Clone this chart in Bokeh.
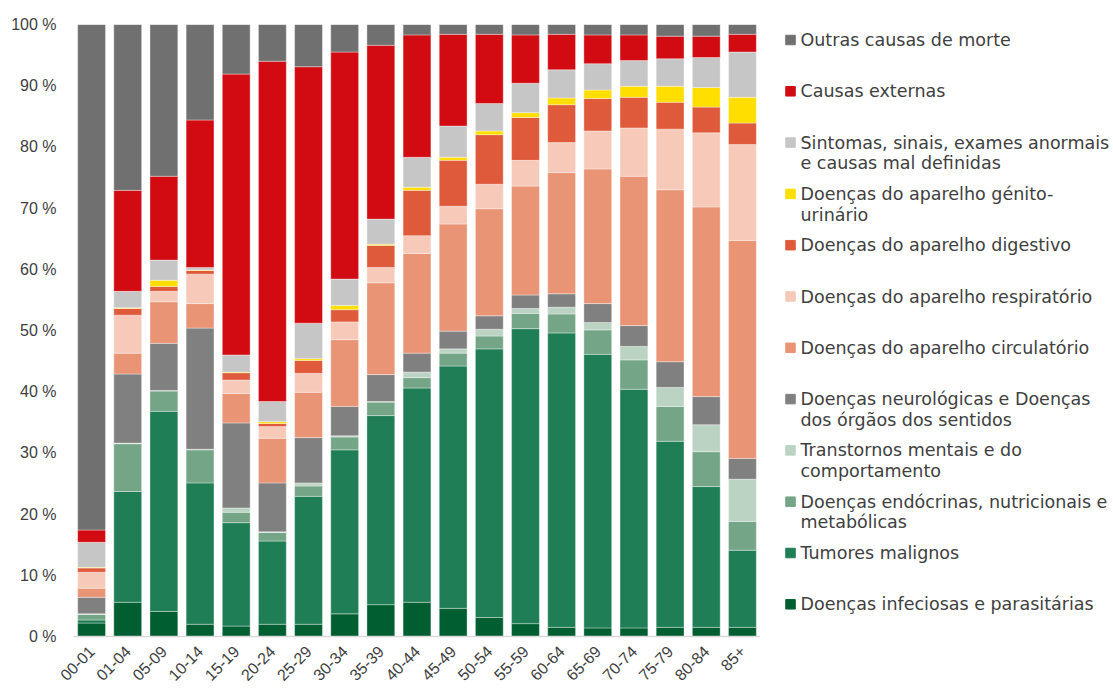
import math
from bokeh.plotting import figure
from bokeh.layouts import row
from bokeh.models import FixedTicker, ColumnDataSource, Range1d
from bokeh.embed import file_html
from bokeh.resources import INLINE
from bokeh.core.properties import value

ages = ["00-01", "01-04", "05-09", "10-14", "15-19", "20-24", "25-29", "30-34", "35-39",
        "40-44", "45-49", "50-54", "55-59", "60-64", "65-69", "70-74", "75-79", "80-84", "85+"]

infecciosas  = [2.2, 5.6, 4.1, 2.0, 1.7, 2.0, 2.0, 3.7, 5.2, 5.6, 4.6, 3.1, 2.1, 1.5, 1.4, 1.4, 1.5, 1.5, 1.5]
tumores      = [0.5, 18.1, 32.7, 23.1, 16.9, 13.6, 20.9, 26.8, 30.9, 35.0, 39.6, 43.9, 48.2, 48.1, 44.7, 39.0, 30.4, 23.0, 12.6]
endocrinas   = [0.9, 7.8, 3.3, 5.4, 1.7, 1.4, 1.7, 2.1, 2.2, 1.7, 2.1, 2.1, 2.5, 3.1, 4.0, 4.8, 5.7, 5.7, 4.7]
mentais      = [0.1, 0.1, 0.1, 0.1, 0.7, 0.1, 0.5, 0.2, 0.1, 0.9, 0.7, 1.1, 0.8, 1.1, 1.2, 2.2, 3.1, 4.4, 6.9]
neurologicas = [2.7, 11.3, 7.7, 19.8, 13.9, 8.0, 7.4, 4.8, 4.4, 3.1, 2.9, 2.2, 2.2, 2.2, 3.1, 3.4, 4.2, 4.6, 3.4]
circulatorio = [1.5, 3.4, 6.8, 4.0, 4.8, 7.3, 7.4, 10.9, 15.0, 16.3, 17.5, 17.5, 17.8, 19.8, 22.0, 24.4, 28.1, 31.0, 35.6]
respiratorio = [2.6, 6.2, 1.7, 4.8, 2.2, 1.9, 3.1, 2.9, 2.5, 2.9, 2.9, 4.0, 4.2, 4.9, 6.2, 7.9, 9.9, 12.1, 15.7]
digestivo    = [0.7, 1.1, 0.8, 0.6, 1.2, 0.5, 2.1, 2.0, 3.6, 7.4, 7.5, 8.1, 7.0, 6.2, 5.3, 5.0, 4.4, 4.2, 3.5]
genito       = [0.1, 0.1, 1.0, 0.1, 0.1, 0.3, 0.3, 0.7, 0.2, 0.5, 0.5, 0.6, 0.8, 1.1, 1.4, 1.8, 2.6, 3.2, 4.2]
sintomas     = [4.1, 2.7, 3.3, 0.4, 2.8, 3.3, 5.8, 4.3, 4.1, 4.9, 5.1, 4.5, 4.8, 4.6, 4.3, 4.2, 4.5, 4.9, 7.4]
externas     = [2.0, 16.5, 13.7, 24.1, 45.9, 55.6, 41.9, 37.1, 28.4, 20.0, 15.0, 11.3, 7.9, 5.8, 4.7, 4.2, 3.7, 3.5, 2.9]
outras       = [82.7, 27.1, 24.8, 15.6, 8.1, 6.0, 6.9, 4.5, 3.4, 1.7, 1.6, 1.6, 1.7, 1.6, 1.7, 1.7, 1.9, 1.9, 1.6]

series_keys = ["infecciosas", "tumores", "endocrinas", "mentais", "neurologicas", "circulatorio",
               "respiratorio", "digestivo", "genito", "sintomas", "externas", "outras"]
series_labels = [
    ["Doenças infeciosas e parasitárias"],
    ["Tumores malignos"],
    ["Doenças endócrinas, nutricionais e", "metabólicas"],
    ["Transtornos mentais e do", "comportamento"],
    ["Doenças neurológicas e Doenças", "dos órgãos dos sentidos"],
    ["Doenças do aparelho circulatório"],
    ["Doenças do aparelho respiratório"],
    ["Doenças do aparelho digestivo"],
    ["Doenças do aparelho génito-", "urinário"],
    ["Sintomas, sinais, exames anormais", "e causas mal definidas"],
    ["Causas externas"],
    ["Outras causas de morte"],
]
colors = ["#005e31", "#1f7e55", "#74a587", "#bad3c2", "#808080", "#e99475",
          "#f6c9b8", "#df5a3b", "#ffde00", "#c6c6c6", "#d20a11", "#707070"]
y_ticks = [0, 10, 20, 30, 40, 50, 60, 70, 80, 90, 100]

data = dict(age=ages, infecciosas=infecciosas, tumores=tumores, endocrinas=endocrinas,
            mentais=mentais, neurologicas=neurologicas, circulatorio=circulatorio,
            respiratorio=respiratorio, digestivo=digestivo, genito=genito,
            sintomas=sintomas, externas=externas, outras=outras)
source = ColumnDataSource(data)

AXFONT = "Liberation Sans"
LGFONT = "DejaVu Sans"
TXT = "#404040"

p = figure(x_range=ages, y_range=Range1d(0, 100), width=760, height=689,
           output_backend="svg", toolbar_location=None,
           min_border_left=73, min_border_right=0, min_border_top=24, min_border_bottom=53)
p.vbar_stack(series_keys, x="age", width=0.77, color=colors, source=source,
             line_color="white", line_width=0.6, line_alpha=0.6)

p.xgrid.visible = False
p.ygrid.visible = False
p.outline_line_color = None

p.yaxis.ticker = FixedTicker(ticks=y_ticks)
p.yaxis.major_label_overrides = {t: f"{t} %" for t in y_ticks}
p.yaxis.axis_line_color = None
p.yaxis.major_tick_line_color = None
p.yaxis.minor_tick_line_color = None
p.yaxis.major_label_text_font = AXFONT
p.yaxis.major_label_text_font_size = "16px"
p.yaxis.major_label_text_color = TXT
p.yaxis.major_label_standoff = 11

p.xaxis.axis_line_color = "#d9d9d9"
p.xaxis.axis_line_width = 1.5
p.xaxis.major_tick_line_color = None
p.xaxis.minor_tick_line_color = None
p.xaxis.major_label_orientation = math.pi / 4
p.xaxis.major_label_text_font = AXFONT
p.xaxis.major_label_text_font_size = "16px"
p.xaxis.major_label_text_color = TXT
p.xaxis.major_label_standoff = 6

# legend panel (its frame is aligned with the chart frame: page y 24..636)
lf = figure(width=353, height=689, x_range=Range1d(0, 353), y_range=Range1d(636, 24),
            output_backend="svg", toolbar_location=None,
            x_axis_type=None, y_axis_type=None,
            min_border_left=0, min_border_right=0, min_border_top=24, min_border_bottom=53)
lf.xgrid.visible = False
lf.ygrid.visible = False
lf.outline_line_color = None

sq_x, sq_y, sq_c = [], [], []
tx, ty, tt = [], [], []
n = len(series_keys)
for rank, idx in enumerate(range(n - 1, -1, -1)):
    yc = 39.5 + rank * 51.3
    sq_x.append(30)
    sq_y.append(yc)
    sq_c.append(colors[idx])
    for li, line in enumerate(series_labels[idx]):
        tx.append(40)
        ty.append(yc + li * 20.7)
        tt.append(line)

lf.rect(x=sq_x, y=sq_y, width=9.5, height=9.5, color=sq_c)
lf.text(x=tx, y=ty, text=tt, text_font=value(LGFONT), text_font_size="17.5px",
        text_color=TXT, text_baseline="middle", text_align="left")

layout = row(p, lf)
open("out.html", "w").write(file_html(layout, INLINE))
